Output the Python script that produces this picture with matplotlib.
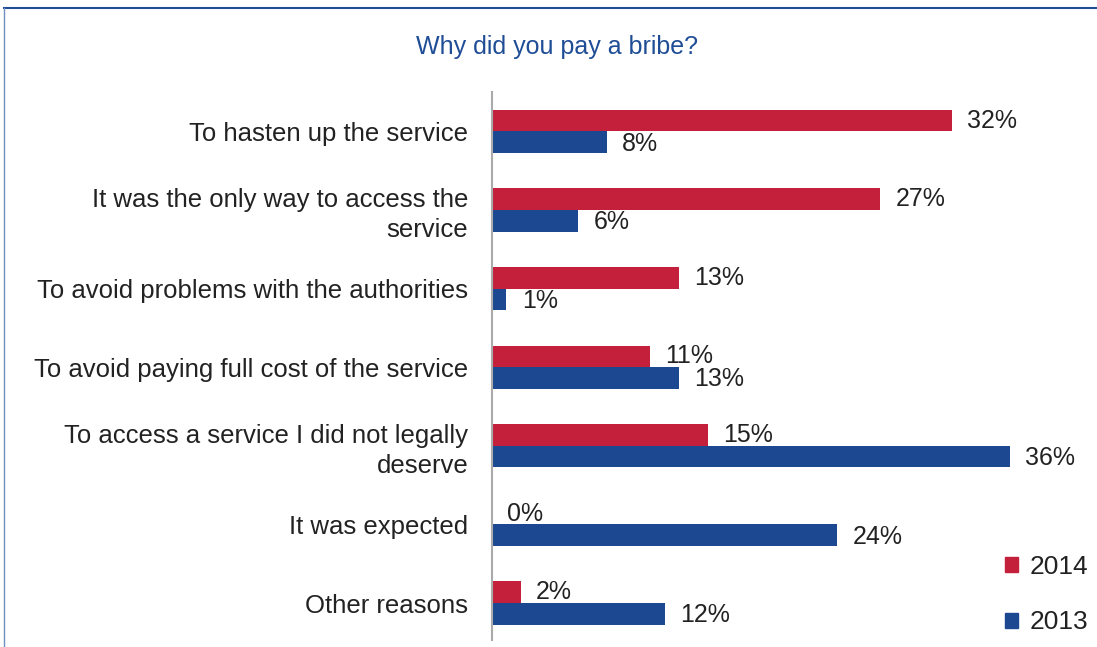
import numpy as np
import matplotlib.pyplot as plt
from matplotlib.patches import Patch
from matplotlib.lines import Line2D

plt.rcParams['font.family'] = ['Liberation Sans', 'DejaVu Sans']

reasons = [
    "To hasten up the service",
    "It was the only way to access the\nservice",
    "To avoid problems with the authorities",
    "To avoid paying full cost of the service",
    "To access a service I did not legally\ndeserve",
    "It was expected",
    "Other reasons",
]
pct_2014 = [32, 27, 13, 11, 15, 0, 2]
pct_2013 = [8, 6, 1, 13, 36, 24, 12]

red = '#c41f3b'
blue = '#1c4892'
navy = '#1f4d96'
txt = '#222222'

fig = plt.figure(figsize=(10.97, 6.47), dpi=100)
ax = fig.add_axes([492 / 1097, 7 / 647, 575 / 1097, 548 / 647])

y = np.arange(len(reasons))
h = 0.275
ax.barh(y - h / 2, pct_2014, height=h, color=red, label='2014')
ax.barh(y + h / 2, pct_2013, height=h, color=blue, label='2013')

# percentage labels to the right of each bar
for yy, v in zip(y - h / 2, pct_2014):
    ax.annotate(f'{v}%', (v, yy), xytext=(11, 0), textcoords='offset points',
                va='center', ha='left', fontsize=18, color=txt)
for yy, v in zip(y + h / 2, pct_2013):
    ax.annotate(f'{v}%', (v, yy), xytext=(11, -1), textcoords='offset points',
                va='center', ha='left', fontsize=18, color=txt)

ax.set_xlim(0, 40)
ax.set_ylim(6.47, -0.5)
ax.set_yticks(y)
ax.set_yticklabels(reasons, fontsize=18.5, color=txt, linespacing=1.3)
ax.tick_params(axis='y', length=0, pad=17)
ax.set_xticks([])
for s in ['top', 'right', 'bottom']:
    ax.spines[s].set_visible(False)
ax.spines['left'].set_color('#aaaaaa')
ax.spines['left'].set_linewidth(1.5)

handles = [Patch(color=red), Patch(color=blue)]
fig.legend(handles, ['2014', '2013'], loc='upper left',
           bbox_to_anchor=(981 / 1097, 1 - 531 / 647), frameon=False,
           fontsize=19, handlelength=0.5, handleheight=0.5,
           handletextpad=0.45, labelspacing=1.2, labelcolor=txt)

fig.text(557 / 1097, 1 - 47 / 647, 'Why did you pay a bribe?', ha='center',
         va='center', fontsize=18, color=navy)

# frame lines along the top and left edges
fig.add_artist(Line2D([4 / 1097, 1], [1 - 8 / 647, 1 - 8 / 647],
                      transform=fig.transFigure, color=navy, lw=1.5))
fig.add_artist(Line2D([4 / 1097, 4 / 1097], [0, 1 - 8 / 647],
                      transform=fig.transFigure, color='#6f8fc0', lw=1))

fig.savefig('out.png', dpi=100)
